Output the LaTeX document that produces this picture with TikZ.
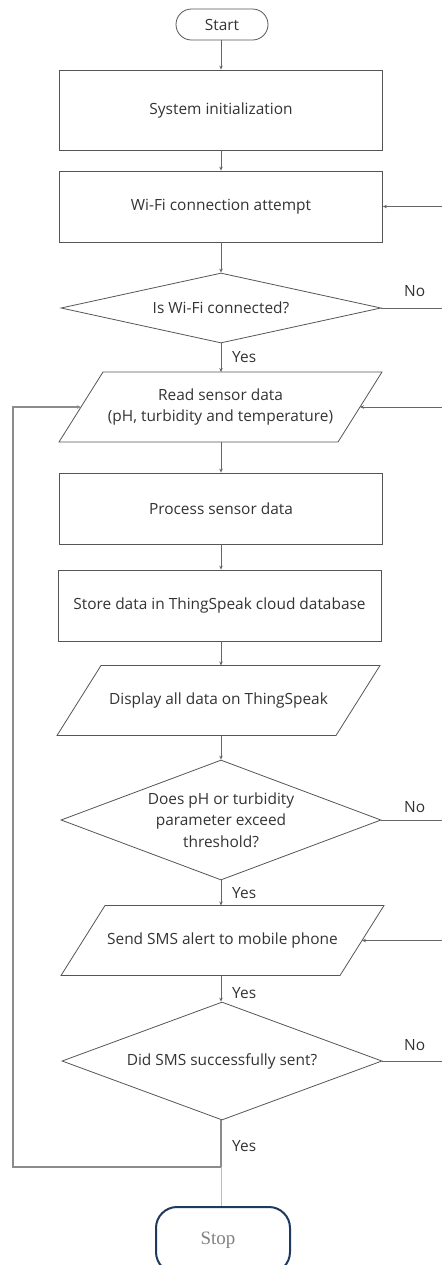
\documentclass[tikz,border=0pt]{standalone}
\usepackage{fontspec}
\setmainfont{Open Sans}
\newfontfamily\stopfont{Liberation Serif}
\usetikzlibrary{shapes.geometric,arrows.meta}
\definecolor{txt}{HTML}{333333}
\definecolor{ln}{HTML}{555555}
\definecolor{con}{HTML}{666666}
\definecolor{loopc}{HTML}{8C8C8C}
\definecolor{stopline}{HTML}{BDBDBD}
\definecolor{navy}{HTML}{1F3A5F}
\definecolor{stoptext}{HTML}{808080}
% parallelogram: name, x, y, text  (323 wide overall, 70 high, slant 44)
\newcommand\myparabox[4]{%
  \node[ptext] (#1) at (#2,#3) {#4};
  \draw[outl] ([shift={(-117.5,-35)}]#1.center) -- ([shift={(161.5,-35)}]#1.center)
     -- ([shift={(117.5,35)}]#1.center) -- ([shift={(-161.5,35)}]#1.center) -- cycle;
  \coordinate (#1-l) at ([shift={(-139.5,0)}]#1.center);
  \coordinate (#1-r) at ([shift={(139.5,0)}]#1.center);
  \coordinate (#1-t) at ([shift={(0,-35)}]#1.center);
  \coordinate (#1-b) at ([shift={(0,35)}]#1.center);
}
\begin{document}
\begin{tikzpicture}[x=1bp,y=-1bp,
  every node/.style={font=\fontsize{15.5}{21.5}\selectfont, text=txt},
  outl/.style={draw=ln, line width=0.8bp},
  box/.style={outl, rectangle, minimum width=323bp, minimum height=71bp, inner sep=0pt},
  ptext/.style={inner sep=0pt, align=center},
  dec/.style={outl, diamond, minimum width=320bp, inner sep=0pt, align=center},
  term/.style={outl, rectangle, rounded corners=15.5bp, minimum width=92bp, minimum height=31bp, inner sep=0pt},
  lbl/.style={anchor=west, inner sep=0pt},
  conn/.style={draw=con, line width=0.8bp, -{Stealth[length=4bp,width=3.5bp]}},
]
\useasboundingbox (0,0) rectangle (442,1265);

\node[term] (start) at (222,24.5) {Start};
\node[box] (init) at (221,110) [minimum height=80bp] {System initialization};
\node[box] (wifi) at (221,206.5) {Wi-Fi connection attempt};
\node[dec, minimum height=70bp, aspect=4.5] (dec1) at (221,308) {Is Wi-Fi connected?};
\myparabox{read}{220.5}{407}{Read sensor data\\(pH, turbidity and temperature)}
\node[box] (proc) at (221,508.5) {Process sensor data};
\node[box] (store) at (219.5,605.5) {Store data in ThingSpeak cloud database};
\myparabox{disp}{218.5}{700.5}{Display all data on ThingSpeak}
\node[dec, minimum height=120bp, aspect=2.67] (dec2) at (221,820) {Does pH or turbidity\\parameter exceed\\threshold?};
\myparabox{sms}{222.5}{940.5}{Send SMS alert to mobile phone}
\node[dec, minimum height=118bp, aspect=2.7] (dec3) at (222,1061) {Did SMS successfully sent?};
\node[rectangle, rounded corners=21bp, draw=navy, line width=2bp, minimum width=134bp, minimum height=66bp,
  font=\stopfont\fontsize{19}{20}\selectfont, text=stoptext] (stop) at (223,1240) {\hspace*{-10bp}Stop};

% labels
\node[lbl] (y1) at (232,357) {Yes};
\node[lbl] (n1) at (404,291) {No};
\node[lbl] (n2) at (404,807) {No};
\node[lbl] (y2) at (232,893) {Yes};
\node[lbl] (y3) at (232,993) {Yes};
\node[lbl] (n3) at (404,1045) {No};
\node[lbl] (y4) at (232,1146) {Yes};

% helper coordinates
\coordinate (r1) at (447,308);
\coordinate (r2) at (447,820);
\coordinate (r3) at (447,1061);
\coordinate (j) at (221,1167);
\coordinate (lc) at (13,1167);

% main flow
\draw[conn] (start.south -| 221,0) -- (init.north -| 221,0);
\draw[conn] (init.south -| 221,0) -- (wifi.north -| 221,0);
\draw[conn] (wifi.south) -- (dec1.north);
\draw[conn] (dec1.south) -- (read-t -| dec1.south);
\draw[conn] (read-b -| 221,0) -- (proc.north -| 221,0);
\draw[conn] (proc.south -| 221,0) -- (store.north -| 221,0);
\draw[conn] (store.south -| 221,0) -- (disp-t -| 221,0);
\draw[conn] (disp-b -| 221,0) -- (dec2.north -| 221,0);
\draw[conn] (dec2.south -| 221,0) -- (sms-t -| 221,0);
\draw[conn] (sms-b -| 221,0) -- (dec3.north -| 221,0);

% No loops on the right
\draw[conn] (dec1.east) -- (r1) |- (wifi.east);
\draw[conn] (dec2.east) -- (r2) |- (read-r);
\draw[conn] (dec3.east) -- (r3) |- (sms-r);

% Yes loop on the left
\draw[draw=loopc, line width=1.1bp, -{Stealth[length=4bp,width=3.5bp]}] (dec3.south -| j) -- (j) -- (lc) |- (read-l);
\draw[draw=stopline, line width=0.8bp] (j) -- (stop.north -| j);
\end{tikzpicture}
\end{document}
